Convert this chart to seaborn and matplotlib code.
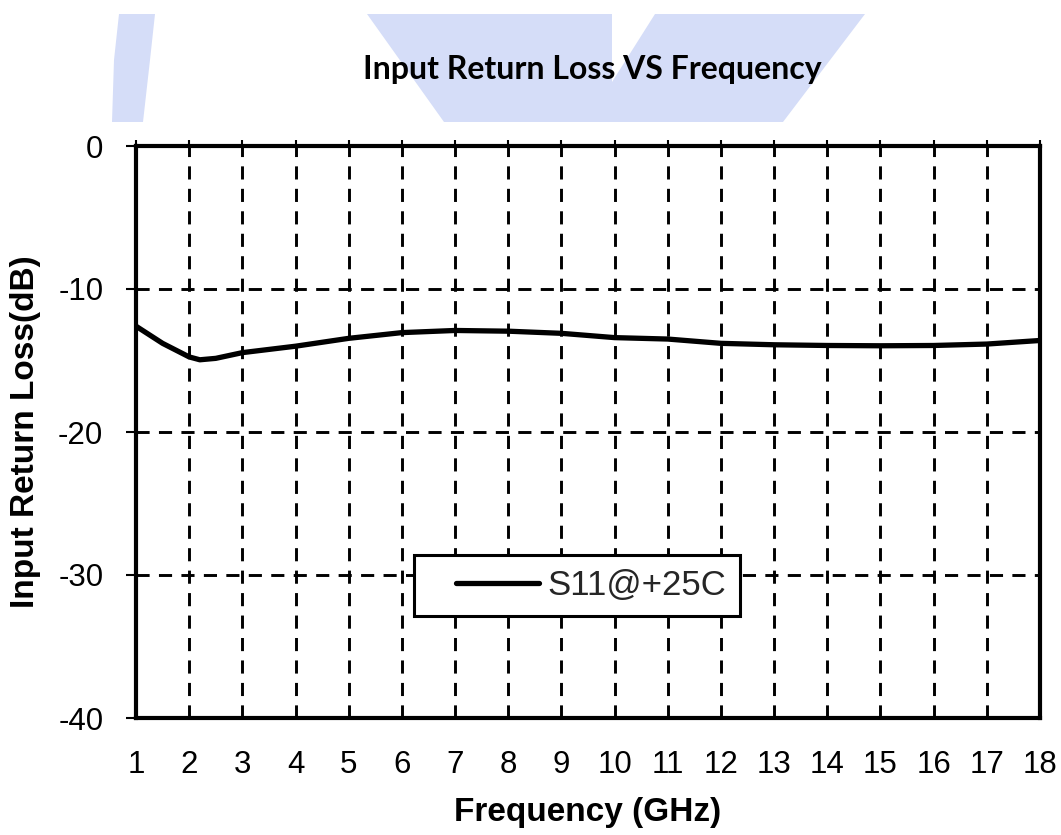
import matplotlib
matplotlib.use("Agg")
import matplotlib.pyplot as plt
from matplotlib.patches import Polygon
from matplotlib.legend_handler import HandlerLine2D
import seaborn as sns
import pandas as pd

# ---- data ----
freq_ghz = [1.0, 1.5, 2.0, 2.2, 2.5, 3.0, 4.0, 5.0, 6.0, 7.0, 8.0, 9.0,
            10.0, 11.0, 12.0, 13.0, 14.0, 15.0, 16.0, 17.0, 18.0]
s11_db = [-12.6, -13.8, -14.75, -14.95, -14.85, -14.45, -14.0, -13.45, -13.05,
          -12.9, -12.95, -13.1, -13.4, -13.5, -13.8, -13.9, -13.95, -13.97,
          -13.95, -13.85, -13.6]
series_label = "S11@+25C"
x_ticks = list(range(1, 19))
y_ticks = [0, -10, -20, -30, -40]
title_text = "Input Return Loss VS Frequency"
x_label = "Frequency (GHz)"
y_label = "Input Return Loss(dB)"

df = pd.DataFrame({"Frequency": freq_ghz, "S11": s11_db, "Series": series_label})

sns.set_theme(style="white")
plt.rcParams["font.family"] = ["Liberation Sans", "DejaVu Sans"]

W, H = 1061, 835
fig = plt.figure(figsize=(W / 100, H / 100), dpi=100)
fig.patch.set_facecolor("white")

# ---- watermark shapes (figure pixel coords -> fraction) ----
wm_color = "#d5ddf8"
def px(pts):
    return [(x / W, 1 - y / H) for x, y in pts]

band = px([(119, 14), (155, 14), (150, 60), (143, 122), (112, 122), (114, 60)])
vshape = px([(367, 14), (612, 14), (612, 82), (655, 14), (865, 14), (783, 122), (444, 122)])
for pts in (band, vshape):
    fig.patches.append(Polygon(pts, closed=True, transform=fig.transFigure,
                               facecolor=wm_color, edgecolor="none", zorder=0))

ax = fig.add_axes([136 / W, 1 - 718 / H, (1040 - 136) / W, (718 - 146) / H])
ax.set_facecolor("white")

sns.lineplot(data=df, x="Frequency", y="S11", hue="Series", palette=["black"],
             linewidth=3.8, ax=ax, zorder=3)

ax.set_xlim(1, 18)
ax.set_ylim(-40, 0)
ax.set_xticks(x_ticks)
ax.set_yticks(y_ticks)
ax.set_xticklabels([str(t) for t in x_ticks])
ax.set_yticklabels([str(t) for t in y_ticks])

ax.grid(True, color="black", linestyle=(0, (4.5, 3.2)), linewidth=2.1)
ax.set_axisbelow(True)

for sp in ax.spines.values():
    sp.set_visible(True)
    sp.set_color("black")
    sp.set_linewidth(3.0)
    sp.set_zorder(4)

ax.tick_params(axis="x", which="major", bottom=False, top=True, direction="out",
               length=4, width=1.5, color="black", labelsize=22.5, pad=19,
               labelcolor="black")
ax.tick_params(axis="y", which="major", left=True, direction="out", length=7.5,
               width=1.5, color="black", labelsize=22.5, pad=16, labelcolor="black")

ax.set_xlabel(x_label, fontsize=24, fontweight="bold", labelpad=12, color="black")
ax.set_ylabel(y_label, fontsize=24, fontweight="bold", labelpad=12, color="black")


class OffsetLine(HandlerLine2D):
    pass


leg = ax.legend(loc="center", bbox_to_anchor=(0.488, 0.231), fontsize=25,
                frameon=True, fancybox=False, edgecolor="black",
                handlelength=3.2, handletextpad=0.25, borderpad=0.4,
                framealpha=1.0,
                handler_map={matplotlib.lines.Line2D: OffsetLine(xpad=0.8)})
leg.get_frame().set_linewidth(2.2)
leg.set_zorder(5)
for line in leg.get_lines():
    line.set_linewidth(3.8)

fig.text(592 / W, 1 - 70 / H, title_text, ha="center", va="center",
         fontsize=23, fontweight="bold", family=["Lato", "DejaVu Sans"], color="black")

fig.savefig("out.png", dpi=100, facecolor="white")
